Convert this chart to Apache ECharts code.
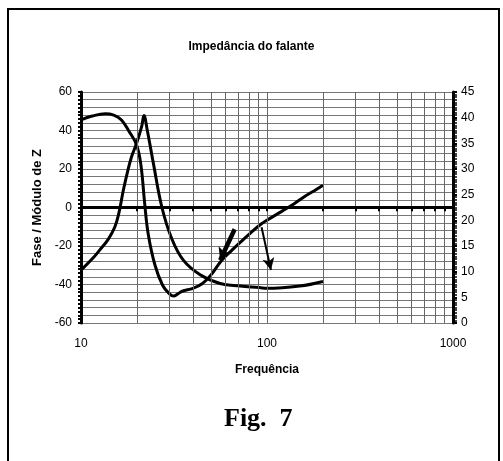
<!DOCTYPE html>
<html>
<head>
<meta charset="utf-8">
<title>Impedância do falante</title>
<script src="https://cdn.jsdelivr.net/npm/echarts@6/dist/echarts.min.js"></script>
<style>
html, body { margin: 0; padding: 0; background: #fff; }
#chart { width: 503px; height: 461px; }
</style>
</head>
<body>
<div id="chart"></div>
<script>
// fase (eixo da esquerda) : [frequencia, graus]
var phaseFreq = [10, 11.5, 13.5, 15, 16.5, 18, 19.9, 21, 22, 23, 25, 27.5, 30, 31.5, 33, 35, 40, 45, 50, 57, 65, 72, 82, 93, 100, 120, 140, 160, 185, 200];
var phaseVal = [45.5, 47.5, 48.7, 48, 45.5, 40, 32.5, 22, 2, -14, -30, -40.5, -45, -46, -45, -43.5, -42, -39.5, -35, -27.5, -22, -18, -13, -8.6, -6.6, -2, 2, 5.8, 9.5, 11.6];
// modulo de Z (eixo da direita)
var zFreq = [10, 11.5, 12.6, 14, 15.2, 16, 16.9, 17.8, 18.7, 19.9, 21.2, 21.8, 22.7, 24.5, 27.2, 30.7, 35.4, 43.7, 55.9, 71.6, 90.9, 100, 150, 200];
var zVal = [10.3, 12.5, 14.2, 16.3, 18.7, 21.5, 25.9, 29.5, 32.4, 35, 38.3, 40.4, 37.6, 31.1, 22.6, 16.5, 12.3, 9.4, 7.7, 7.2, 6.9, 6.75, 7.2, 8.1];
// linhas de grade verticais (log)
var gridFreq = [20, 30, 40, 50, 60, 70, 80, 90, 100, 200, 300, 400, 500, 600, 700, 800, 900];
var leftLabels = [-60, -40, -20, 0, 20, 40, 60];
// setas: [inicio, fim] em coordenadas dos dados
var arrow1 = [[67, -11.3], [56, -27.4]];
var arrow2 = [[93.5, -10.3], [105, -32.5]];

var FONT = 'Liberation Sans, Arial, sans-serif';

function pairs(xs, ys) {
	var out = [];
	for (var i = 0; i < xs.length; i++) {
		out.push([xs[i], ys[i]]);
	}
	return out;
}

var vLines = [];
var zeroTicks = [];
gridFreq.forEach(function(f) {
	vLines.push({ xAxis: f });
	zeroTicks.push([{ coord: [f, 0] }, { coord: [f, -2] }]);
});

var myChart = echarts.init(document.getElementById('chart'), null, { renderer: 'canvas' });
var option = {
	animation: false,
	backgroundColor: '#fff',
	title: [{
		text: 'Impedância do falante',
		left: 'center',
		top: 36,
		textStyle: { fontFamily: FONT, fontSize: 12, fontWeight: 'bold', color: '#000' }
	}, {
		text: 'Fig.  7',
		left: 219,
		top: 401,
		textStyle: { fontFamily: 'Liberation Serif, Times New Roman, serif', fontSize: 26, fontWeight: 'bold', color: '#000' }
	}],
	graphic: [{
		type: 'rect',
		shape: { x: 8, y: 9, width: 491, height: 480 },
		style: { fill: 'none', stroke: '#000', lineWidth: 2 },
		silent: true
	}],
	grid: { left: 81, right: 50, top: 92, bottom: 138 },
	xAxis: {
		type: 'log',
		logBase: 10,
		min: 10,
		max: 1000,
		name: 'Frequência',
		nameLocation: 'middle',
		nameGap: 41,
		nameTextStyle: { fontFamily: FONT, fontSize: 12, fontWeight: 'bold', color: '#000' },
		axisLine: { show: false, onZero: false },
		axisTick: { show: false },
		splitLine: { show: false },
		axisLabel: {
			margin: 15,
			fontFamily: FONT,
			fontSize: 12,
			color: '#000',
			formatter: function(v) { return String(Math.round(v)); }
		}
	},
	yAxis: [{
		type: 'value',
		min: -60,
		max: 60,
		interval: 4,
		name: 'Fase / Módulo de Z',
		nameLocation: 'middle',
		nameRotate: 90,
		nameGap: 27,
		nameTextStyle: { fontFamily: FONT, fontSize: 13, fontWeight: 'bold', color: '#000' },
		axisLine: { show: true, lineStyle: { color: '#000', width: 3 } },
		axisTick: { show: true, length: 3, lineStyle: { color: '#000', width: 2 } },
		minorTick: { show: true, splitNumber: 2, length: 3, lineStyle: { color: '#000', width: 2 } },
		splitLine: { show: true, lineStyle: { color: '#777', width: 1 } },
		axisLabel: {
			margin: 9,
			fontFamily: FONT,
			fontSize: 12,
			color: '#000',
			formatter: function(v) {
				return leftLabels.indexOf(v) >= 0 ? String(v) : '';
			}
		}
	}, {
		type: 'value',
		min: 0,
		max: 45,
		interval: 5,
		position: 'right',
		axisLine: { show: true, lineStyle: { color: '#000', width: 3 } },
		axisTick: { show: true, length: 4, lineStyle: { color: '#000', width: 2 } },
		minorTick: { show: true, splitNumber: 10, length: 4, lineStyle: { color: '#000', width: 1.5 } },
		splitLine: { show: false },
		axisLabel: { margin: 8, fontFamily: FONT, fontSize: 12, color: '#000' }
	}],
	series: [{
		// grade vertical + linha do zero
		type: 'line',
		yAxisIndex: 0,
		data: [],
		z: 1,
		silent: true,
		markLine: {
			silent: true,
			symbol: 'none',
			label: { show: false },
			lineStyle: { color: '#666', width: 1, type: 'solid' },
			data: vLines.concat([{ yAxis: 0, lineStyle: { color: '#000', width: 3 } }])
		}
	}, {
		name: 'Fase',
		type: 'line',
		yAxisIndex: 0,
		smooth: 0.4,
		symbol: 'none',
		z: 3,
		lineStyle: { color: '#000', width: 3 },
		data: pairs(phaseFreq, phaseVal),
		markLine: {
			silent: true,
			label: { show: false },
			symbol: 'none',
			lineStyle: { color: '#000', width: 2, type: 'solid' },
			data: zeroTicks.concat([
				[{ coord: arrow1[0], symbol: 'none' },
				 { coord: arrow1[1], symbol: 'arrow', symbolSize: [11, 12], lineStyle: { width: 4.5 } }],
				[{ coord: arrow2[0], symbol: 'none' },
				 { coord: arrow2[1], symbol: 'arrow', symbolSize: [9, 12], lineStyle: { width: 2 } }]
			])
		}
	}, {
		name: 'Módulo de Z',
		type: 'line',
		yAxisIndex: 1,
		smooth: 0.4,
		symbol: 'none',
		z: 3,
		lineStyle: { color: '#000', width: 3 },
		data: pairs(zFreq, zVal)
	}]
};
myChart.setOption(option);
</script>
</body>
</html>
